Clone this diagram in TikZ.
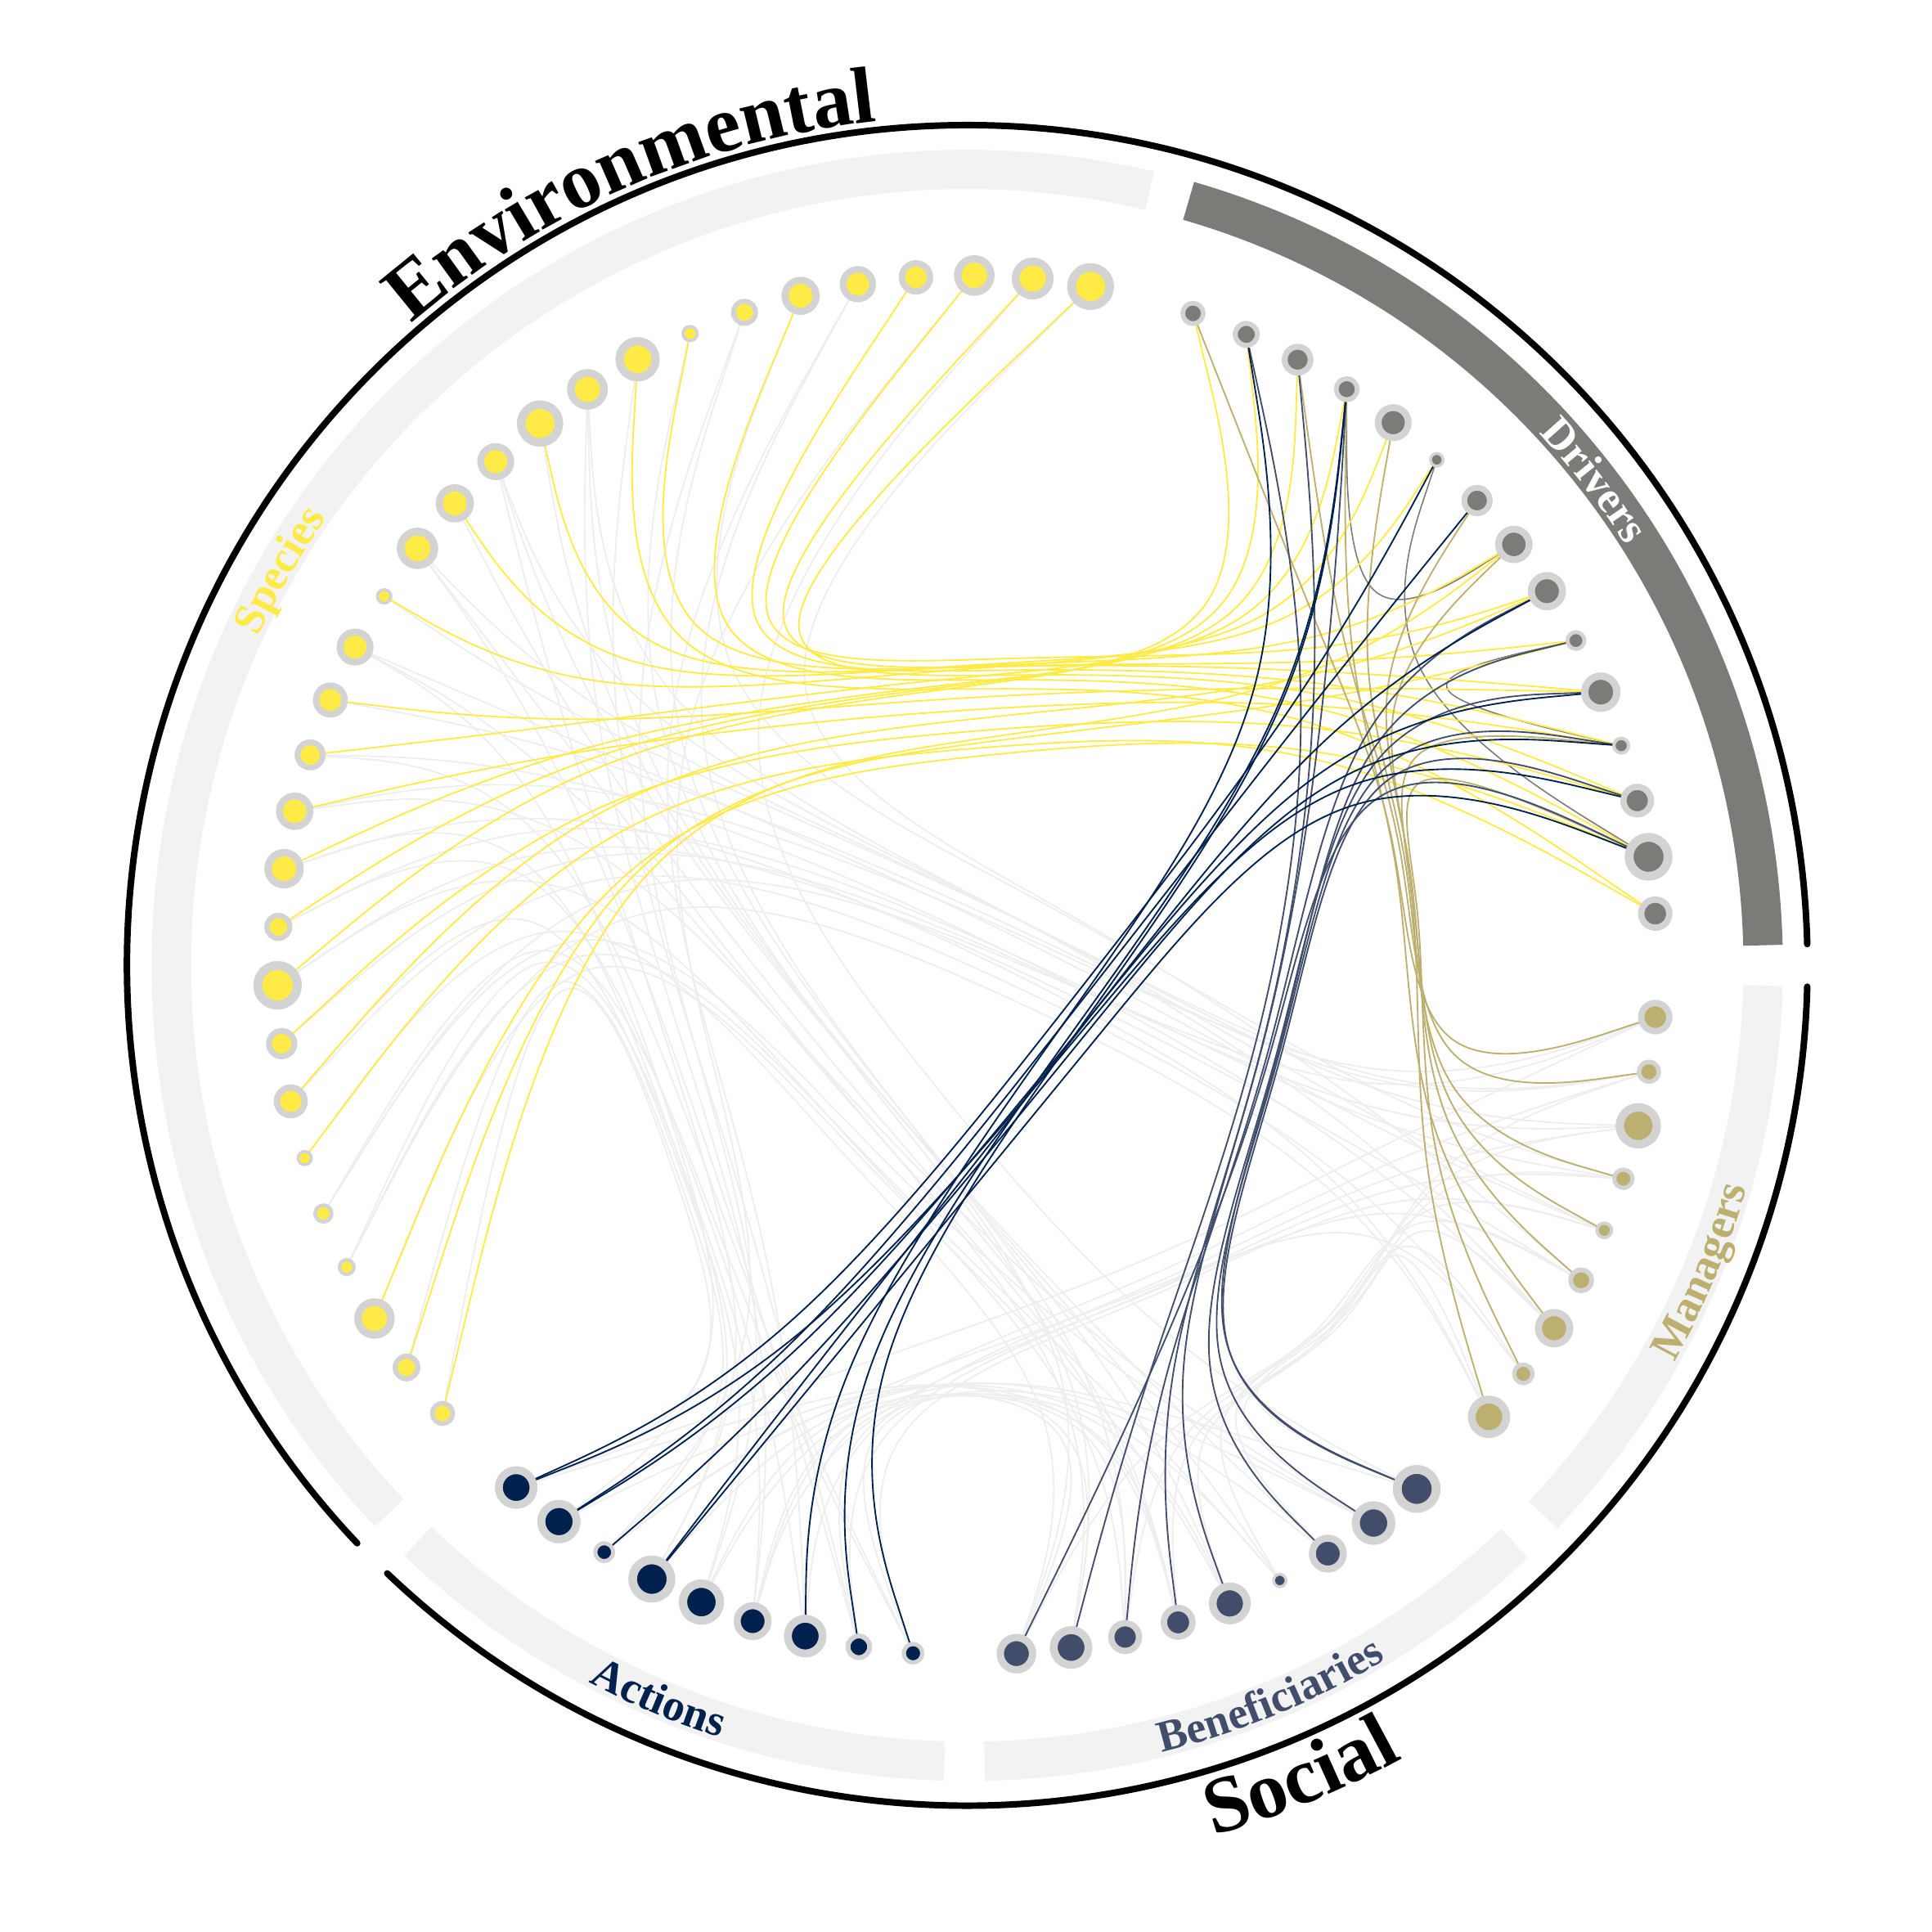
\documentclass[tikz,border=0pt]{standalone}
\usepackage{fontspec}
\setmainfont{Liberation Serif}
\usetikzlibrary{calc,decorations.text}
\definecolor{cyA}{HTML}{00204D}
\definecolor{cyB}{HTML}{414D6B}
\definecolor{cyD}{HTML}{7C7B78}
\definecolor{cyM}{HTML}{BCAF6F}
\definecolor{cyS}{HTML}{FFEA46}
\definecolor{halo}{HTML}{D3D3D3}
\definecolor{bandc}{HTML}{F2F2F2}
\definecolor{faint}{HTML}{EEEEEE}
\pgfdeclarelayer{edges}
\pgfsetlayers{edges,main}
\tikzset{
  edgeF/.style={draw=faint, line width=0.35pt},
  edgeS/.style={draw=cyS, line width=0.35pt},
  edgeA/.style={draw=cyA, line width=0.35pt},
  edgeB/.style={draw=cyB, line width=0.35pt},
  edgeM/.style={draw=cyM, line width=0.35pt},
  edgeD/.style={draw=cyD, line width=0.3pt},
  outerarc/.style={line width=1.5pt, line cap=round},
  biglabel/.style={decorate, decoration={text along path, text align=center,
      text={|\bfseries\fontsize{18.5pt}{20pt}\selectfont|#1}}},
  catlabel/.style 2 args={decorate, decoration={text along path, text align=center, text color=#2,
      text={|\bfseries\fontsize{10.2pt}{12pt}\selectfont|#1}}},
}
\newcommand\mynode[4]{%
  \node[circle, inner sep=0pt, minimum size={#3*1.63*0.01cm}, line width={#3*0.37*0.01cm},
        draw=halo, fill=#4] (#1) at (#2:560) {};}
\newcommand\myband[3]{%
  \fill[#3] (#1:630) arc[start angle=#1, end angle=#2, radius=630] -- (#2:662)
     arc[start angle=#2, end angle=#1, radius=662] -- cycle;}
\def\bb{0.85}
\newcommand\setbeta[1]{%
  \pgfmathsetmacro\bb{#1}%
  \pgfmathsetmacro\ca{(1-#1)*0.75}%
  \pgfmathsetmacro\cb{(1-#1)*0.25}%
  \pgfmathsetmacro\cc{(1-#1)*0.5}}
\newcommand\bspfive[6]{%
  \coordinate (q0) at (#2.center);
  \coordinate (q4) at (#6.center);
  \coordinate (qa) at ($ {\bb}*(#3) + {\ca}*(q0) + {\cb}*(q4) $);
  \coordinate (qb) at ($ {\bb}*(#4) + {\cc}*(q0) + {\cc}*(q4) $);
  \coordinate (qc) at ($ {\bb}*(#5) + {\cb}*(q0) + {\ca}*(q4) $);
  \draw[#1] (q0) -- ($0.833333*(q0)+0.166667*(qa)$)
   .. controls ($0.666667*(q0)+0.333333*(qa)$) and ($0.333333*(q0)+0.666667*(qa)$) .. ($0.166667*(q0)+0.666667*(qa)+0.166667*(qb)$)
   .. controls ($0.666667*(qa)+0.333333*(qb)$) and ($0.333333*(qa)+0.666667*(qb)$) .. ($0.166667*(qa)+0.666667*(qb)+0.166667*(qc)$)
   .. controls ($0.666667*(qb)+0.333333*(qc)$) and ($0.333333*(qb)+0.666667*(qc)$) .. ($0.166667*(qb)+0.666667*(qc)+0.166667*(q4)$)
   .. controls ($0.666667*(qc)+0.333333*(q4)$) and ($0.333333*(qc)+0.666667*(q4)$) .. ($0.166667*(qc)+0.833333*(q4)$)
   -- (q4);}
\newcommand\bspthree[4]{%
  \coordinate (q0) at (#2.center);
  \coordinate (q2) at (#4.center);
  \coordinate (qa) at ($0.85*(#3)+0.075*(q0)+0.075*(q2)$);
  \draw[#1] (q0) -- ($0.833333*(q0)+0.166667*(qa)$)
   .. controls ($0.666667*(q0)+0.333333*(qa)$) and ($0.333333*(q0)+0.666667*(qa)$) .. ($0.166667*(q0)+0.666667*(qa)+0.166667*(q2)$)
   .. controls ($0.666667*(qa)+0.333333*(q2)$) and ($0.333333*(qa)+0.666667*(q2)$) .. ($0.166667*(qa)+0.833333*(q2)$)
   -- (q2);}
\begin{document}
\begin{tikzpicture}[x=0.01cm, y=0.01cm]
\useasboundingbox (-785,-784.5) rectangle (783,783.5);
% hubs
\coordinate (GS) at (150.1:373);
\coordinate (GD) at (37.6:373);
\coordinate (GA) at (247.35:373);
\coordinate (GB) at (292.4:373);
\coordinate (GM) at (337.4:373);
\coordinate (XSD) at (8,222);
\coordinate (XAD) at (110,-18);
\coordinate (XBD) at (250,-72);
\coordinate (XMD) at (352,85);
\coordinate (XSA) at (-200,-150);
\coordinate (XSB) at (-80,-120);
\coordinate (XSM) at (50,30);
\coordinate (XAB) at (0,-300);
\coordinate (XAM) at (150,-250);
\coordinate (XBM) at (300,-300);
% bands
\myband{76.75}{223.45}{bandc}
\myband{1.45}{73.85}{cyD}
\myband{-43.65}{-1.45}{bandc}
\myband{-88.75}{-46.55}{bandc}
\myband{226.35}{268.35}{bandc}
% outer arcs
\draw[outerarc] (1.45:682) arc[start angle=1.45, end angle=223.45, radius=682];
\draw[outerarc] (226.35:682) arc[start angle=226.35, end angle=358.55, radius=682];
% big labels
\path[biglabel=Environmental] (140:689) arc[start angle=140, end angle=87, radius=689];
\path[biglabel=Social] (272.3:734) arc[start angle=272.3, end angle=312.3, radius=734];
% category labels
\path[catlabel={Drivers}{white}] (57.7:634) arc[start angle=57.7, end angle=17.7, radius=634];
\path[catlabel={Species}{cyS}] (170.1:634) arc[start angle=170.1, end angle=130.1, radius=634];
\path[catlabel={Managers}{cyM}] (317.4:658) arc[start angle=317.4, end angle=357.4, radius=658];
\path[catlabel={Actions}{cyA}] (227.2:658) arc[start angle=227.2, end angle=267.2, radius=658];
\path[catlabel={Beneficiaries}{cyB}] (267.5:658) arc[start angle=267.5, end angle=317.5, radius=658];
% nodes
\foreach \h [count=\k] in {19,17,16.5,14,14.7,15.5,11,7,18,16.5,18.8,15,15.5,16.8,6.7,15,14.2,12.6,15.2,16,11.4,19.7,12.7,13.8,6.6,8.2,7.3,16.4,11.3,10.2}{
  \pgfmathsetmacro\ang{79.7+4.855*(\k-1)}
  \mynode{S\k}{\ang}{\h}{cyS}}
\foreach \h [count=\k] in {10.2,11,12.9,10.5,15,6.3,12.7,15.2,15.5,8.4,16,7.3,13.7,19.4,14}{
  \pgfmathsetmacro\ang{70.9-4.757*(\k-1)}
  \mynode{D\k}{\ang}{\h}{cyD}}
\foreach \h [count=\k] in {14,9.9,18.4,9.1,7.2,10.5,15.6,9.2,17.2}{
  \pgfmathsetmacro\ang{-4.3-4.571*(\k-1)}
  \mynode{M\k}{\ang}{\h}{cyM}}
\foreach \h [count=\k] in {19.4,17.7,15.4,6.2,17,14.2,13.8,17.3,16.1}{
  \pgfmathsetmacro\ang{-49.35-4.57*(\k-1)}
  \mynode{B\k}{\ang}{\h}{cyB}}
\foreach \h [count=\k] in {9.2,10.8,17.3,15.4,18.4,19.1,8.9,17.6,17.3}{
  \pgfmathsetmacro\ang{265.5-4.54*(\k-1)}
  \mynode{A\k}{\ang}{\h}{cyA}}
% edges
\begin{pgfonlayer}{edges}
\setbeta{0.85}
\foreach \p/\q in {S5/A3,S7/A5,S10/A4,S12/A6,S14/A2,S16/A8,S26/A1,S27/A4,S29/A7,S30/A9,S24/A5,S21/A3,S18/A1,S3/A7,S9/A2,S20/A6}
  {\bspfive{edgeF}{\p}{GS}{XSA}{GA}{\q}}
\foreach \p/\q in {S5/B9,S7/B7,S10/B5,S12/B3,S14/B8,S16/B6,S26/B2,S27/B4,S25/B9,S2/B1,S13/B6,S19/B2,S22/B7,S28/B5,S11/B4,S8/B8}
  {\bspfive{edgeF}{\p}{GS}{XSB}{GB}{\q}}
\foreach \p/\q in {S14/M3,S16/M5,S17/M2,S18/M7,S19/M1,S20/M9,S21/M4,S22/M6,S23/M3,S24/M8,S15/M2,S12/M5,S10/M7,S26/M1,S27/M9,S6/M4,S1/M6}
  {\bspfive{edgeF}{\p}{GS}{XSM}{GM}{\q}}
\foreach \p/\q in {A1/B3,A2/B5,A3/B7,A4/B1,A5/B9,A6/B2,A7/B4,A8/B6,A9/B8,A4/B6}
  {\bspfive{edgeF}{\p}{GA}{XAB}{GB}{\q}}
\foreach \p/\q in {A2/M4,A4/M6,A5/M2,A7/M8,A9/M1,A1/M5,A3/M3}
  {\bspfive{edgeF}{\p}{GA}{XAM}{GM}{\q}}
\foreach \p/\q in {B2/M7,B4/M3,B5/M9,B7/M5,B9/M6,B1/M4,B3/M2,B6/M8}
  {\bspfive{edgeF}{\p}{GB}{XBM}{GM}{\q}}
\foreach \p/\q in {D4/D8,D10/D12,D6/D14}
  {\bspthree{edgeD}{\p}{GD}{\q}}
\foreach \p/\q in {S1/D13,S2/D11,S3/D9,S4/D12,S6/D14,S8/D10,S9/D15,S11/D8,S13/D6,S15/D5,S17/D11,S18/D4,S19/D12,S20/D3,S21/D2,S22/D1,S23/D13,S24/D9,S25/D15,S28/D14,S29/D10,S30/D8}
  {\bspfive{edgeS}{\p}{GS}{XSD}{GD}{\q}}
\foreach \p/\q in {M1/D1,M2/D3,M4/D5,M5/D7,M6/D8,M7/D4,M8/D14,M9/D12}
  {\bspfive{edgeM}{\p}{GM}{XMD}{GD}{\q}}
\setbeta{0.93}
\foreach \p/\q in {B1/D10,B1/D13,B2/D12,B3/D11,B5/D3,B6/D4,B7/D9,B8/D2,B9/D14}
  {\bspfive{edgeB}{\p}{GB}{XBD}{GD}{\q}}
\setbeta{0.85}
\foreach \p/\q in {A1/D4,A2/D4,A3/D2,A6/D14,A6/D9,A7/D12,A8/D11,A8/D7,A9/D13,A9/D6}
  {\bspfive{edgeA}{\p}{GA}{XAD}{GD}{\q}}
\end{pgfonlayer}
\end{tikzpicture}
\end{document}
